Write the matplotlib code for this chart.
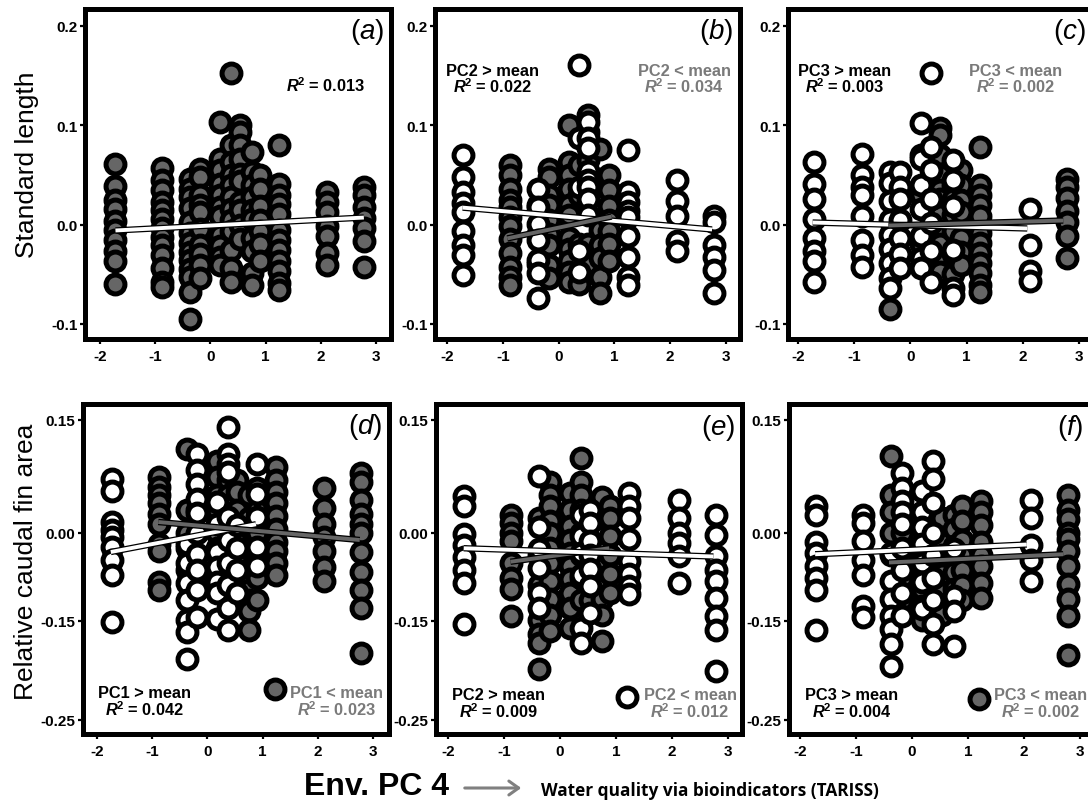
import matplotlib
matplotlib.use("Agg")
import matplotlib.pyplot as plt
from matplotlib.patches import FancyArrowPatch

W, H = 1088, 803
GREY = '#666666'
TEXT_GREY = '#7a7a7a'
MARK = dict(s=185, edgecolor='black', linewidth=3.6)

plt.rcParams['font.family'] = ['Liberation Sans', 'DejaVu Sans']
plt.rcParams['mathtext.fontset'] = 'custom'
plt.rcParams['mathtext.it'] = 'Liberation Sans:italic:bold'
plt.rcParams['mathtext.rm'] = 'Liberation Sans:bold'
plt.rcParams['mathtext.sf'] = 'Liberation Sans:italic'

# sampling sites on Env. PC 4
sites = [-1.72, -0.87, -0.37, -0.18, 0.18, 0.37, 0.53, 0.75, 0.9, 1.24, 2.12, 2.78]

# one list of y values per site
a_grey = [
    [.061, .039, .025, .016, .004, -.006, -.016, -.027, -.037, -.06],
    [.057, .045, .035, .023, .015, .006, -.004, -.013, -.021, -.031, -.044, -.058, -.063],
    [.046, .036, .028, .017, .003, -.009, -.019, -.028, -.036, -.045, -.053, -.068, -.095],
    [.056, .048, .03, .02, .013, -.005, -.021, -.03, -.041, -.054],
    [.103, .066, .055, .041, .03, .018, .009, -.011, -.022, -.033, -.041],
    [.08, .063, .05, .04, .028, .016, .005, -.007, -.026, -.044, -.058, .152],
    [.1, .093, .08, .066, .051, .044, .023, .015, -.001, -.015],
    [.073, .053, .04, .028, .015, .006, -.014, -.027, -.049, -.061],
    [.05, .036, .019, .005, -.007, -.02, -.037],
    [.08, .041, .03, .021, .011, -.006, -.016, -.026, -.037, -.047, -.059, -.066],
    [.033, .023, .013, -.002, -.012, -.029, -.041],
    [.038, .03, .018, .007, -.004, -.017, -.043],
]
b_white = [
    [.07, .048, .033, .022, .013, -.007, -.021, -.031, -.051],
    [],
    [.036, .018, .001, -.016, -.036, -.049, -.074],
    [],
    [],
    [.16, .087, .038, -.027, -.048],
    [.103, .087, .077, .054, .045, .038, .026, .01],
    [],
    [],
    [.075, .033, .023, .014, .008, -.012, -.033, -.053, -.061],
    [.045, .024, .009, -.017, -.027],
    [.009, .003, -.021, -.033, -.046, -.069],
]
b_grey = [
    [],
    [.06, .05, .036, .025, .018, .008, -.002, -.015, -.029, -.043, -.053, -.061],
    [.02, -.01, -.04],
    [.056, .048, .03, .02, .005, -.01, -.021, -.041, -.054],
    [.1, .063, .05, .036, .02, .01, -.014, -.025, -.037, -.048, -.058],
    [.06, .03, -.02, -.06],
    [.11, .093, .08, .065, .015, -.02, -.04],
    [.076, .046, .03, .012, -.006, -.021, -.034, -.053, -.069],
    [.05, .035, .019, .005, -.007, -.02, -.037],
    [],
    [],
    [],
]
c_white = [
    [.063, .041, .026, .006, -.014, -.027, -.037, -.058],
    [.071, .05, .038, .03, .009, -.016, -.031, -.043],
    [.053, .042, .024, .005, -.011, -.025, -.039, -.054, -.064],
    [.053, .038, .026, .005, -.014, -.03, -.044],
    [.102, .066, .04, .016, -.012, -.034, -.044],
    [.152, .078, .055, .026, .002, -.027, -.058],
    [],
    [.065, .045, .019, -.026, -.064, -.071],
    [],
    [],
    [.016, -.021, -.047, -.057],
    [],
]
c_grey = [
    [],
    [],
    [-.085],
    [],
    [.07, .03, -.02],
    [.03, -.01, -.04],
    [.097, .09, .07, .05, .035, .026, .01, -.007, -.02, -.035, -.048],
    [.04, .026, .01, -.007, -.03, -.05],
    [.055, .04, .025, .013, -.014, -.028, -.041],
    [.078, .04, .03, .02, .009, -.009, -.019, -.029, -.039, -.049, -.061, -.068],
    [],
    [.046, .038, .027, .014, .003, -.012, -.034],
]
d_white = [
    [.072, .056, .014, .004, -.006, -.019, -.037, -.057, -.119],
    [],
    [-.015, -.041, -.067, -.09, -.117, -.132, -.169],
    [.105, .083, .065, .045, .026, .0, -.028, -.05, -.077, -.112],
    [.041, .012, -.026, -.046, -.066, -.081, -.115],
    [.141, .105, .092, .081, .021, -.01, -.04, -.07, -.101, -.13],
    [.01, -.02, -.05, -.08],
    [],
    [.092, .052, .021, -.019, -.044],
    [],
    [],
    [],
]
d_grey = [
    [],
    [.074, .061, .05, .039, .025, .012, -.015, -.024, -.066, -.077],
    [.112, .03, .0, -.02, -.05],
    [.03, -.03, -.06],
    [.096, .074, .05, .03, .0, -.02, -.05],
    [.07, .05, .02, -.01, -.03],
    [.07, .054, .03, .01, -.012, -.03, -.05, -.07, -.086],
    [.05, .02, -.02, -.059, -.077, -.09, -.105, -.13],
    [.06, .03, .0, -.03, -.06, -.09],
    [.088, .07, .054, .04, .022, .005, -.012, -.025, -.041, -.057],
    [.06, .033, .012, -.006, -.024, -.046, -.064],
    [.079, .068, .043, .025, .012, -.001, -.026, -.052, -.077, -.101, -.16],
]
e_white = [
    [.049, .036, -.002, -.016, -.033, -.05, -.067, -.122],
    [],
    [.076, .007, -.022, -.047, -.08, -.1],
    [],
    [],
    [.024, -.004, -.027, -.056, -.127, -.147],
    [.03, .013, -.011, -.03, -.049, -.071, -.107],
    [],
    [],
    [.053, .035, .02, -.009, -.038, -.055, -.071, -.082],
    [.043, .019, .0, -.014, -.031, -.067],
    [.024, -.003, -.031, -.05, -.064, -.087, -.111, -.13, -.184],
]
e_grey = [
    [],
    [.024, .013, .0, -.011, -.04, -.06, -.075, -.111],
    [.02, -.03, -.07, -.116, -.135, -.147, -.182],
    [.067, .05, .036, .015, 0.0, -.02, -.04, -.065, -.089, -.11, -.131],
    [.053, .03, .009, -.01, -.027, -.045, -.062, -.08, -.1, -.127],
    [.1, .067, .05, .03, .0, -.03, -.06, -.09],
    [.02, -.01, -.04, -.065, -.09],
    [.047, .02, -.018, -.045, -.071, -.089, -.11, -.144],
    [.035, .02, -.005, -.03, -.055, -.08],
    [],
    [],
    [],
]
f_white = [
    [.036, .024, -.013, -.027, -.044, -.06, -.076, -.13],
    [.024, .013, -.011, -.036, -.056, -.098, -.113],
    [-.027, -.064, -.089, -.111, -.129, -.148, -.178],
    [.08, .06, .042, .027, .011, -.02, -.05, -.08, -.111],
    [.056, .027, .008, -.015, -.04, -.066, -.102],
    [.096, .071, .04, 0.0, -.03, -.06, -.09, -.122, -.149],
    [],
    [-.022, -.084, -.104, -.151],
    [],
    [],
    [.044, .02, -.016, -.036, -.064],
    [],
]
f_grey = [
    [],
    [],
    [.102, .05, .027, 0.0, -.03],
    [.0, -.03, -.06, -.09],
    [-.02, -.05, -.075, -.098, -.116],
    [.03, .0, -.03, -.06],
    [.02, -.01, -.03, -.055, -.08, -.11],
    [.024, .005, -.018, -.035, -.053, -.075, -.093],
    [.035, .015, -.01, -.03, -.05, -.07, -.09],
    [.042, .027, .01, -.013, -.03, -.044, -.067, -.087],
    [],
    [.05, .03, .018, .0, -.009, -.025, -.044, -.069, -.089, -.111, -.163],
]

# legend markers that sit inside the bottom panels
d_key = (1.22, -.209)
e_key = (1.19, -.219)
f_key = (1.2, -.222)

# fitted lines, (x0, y0, x1, y1)
a_fit = (-1.72, -.006, 2.78, .007)
b_fit_white = (-1.72, .017, 2.75, -.005)
b_fit_grey = (-.92, -.014, .95, .008)
c_fit_white = (-1.74, .002, 2.08, -.004)
c_fit_grey = (-.39, -.001, 2.72, .004)
d_fit_white = (-1.75, -.026, .88, .011)
d_fit_grey = (-.89, .014, 2.76, -.01)
e_fit_white = (-1.72, -.021, 2.74, -.032)
e_fit_grey = (-.885, -.039, .88, -.021)
f_fit_white = (-1.73, -.029, 2.05, -.016)
f_fit_grey = (-.41, -.04, 2.7, -.029)

xticks = [-2, -1, 0, 1, 2, 3]
top_yticks = [0.2, 0.1, 0.0, -0.1]
top_ylabels = ['0.2', '0.1', '0.0', '-0.1']
# the printed -0.15 tick is not where a linear axis would put it
bottom_yticks = [0.15, 0.0, -0.118, -0.25]
bottom_ylabels = ['0.15', '0.00', '-0.15', '-0.25']


def make_axes(fig, box, xpx):
    # box is left, right, top, bottom in pixels, xpx the pixels of x=-2 and x=3
    l, r, t, b = box
    ax = fig.add_axes([l / W, 1 - b / H, (r - l) / W, (b - t) / H])
    ppu = (xpx[1] - xpx[0]) / 5.0
    ax.set_xlim(-2 + (l - xpx[0]) / ppu, -2 + (r - xpx[0]) / ppu)
    for s in ax.spines.values():
        s.set_linewidth(3.6)
    ax.set_xticks(xticks)
    ax.set_xticklabels([str(v) for v in xticks], fontweight='bold')
    ax.tick_params(length=3.5, width=1.6, labelsize=11)
    ax.tick_params(axis='x', pad=4)
    ax.tick_params(axis='y', pad=2)
    return ax


def column_points(values):
    xs, ys = [], []
    for x, col in zip(sites, values):
        for y in col:
            xs.append(x)
            ys.append(y)
    return xs, ys


def draw_points(ax, values, face, z):
    xs, ys = column_points(values)
    ax.scatter(xs, ys, facecolor=face, zorder=z, **MARK)


def draw_fit(ax, fit, color, z=6):
    ax.plot([fit[0], fit[2]], [fit[1], fit[3]], color='black', lw=4.6, zorder=z, solid_capstyle='butt')
    ax.plot([fit[0], fit[2]], [fit[1], fit[3]], color=color, lw=2.8, zorder=z + 1, solid_capstyle='butt')


def put_text(fig, x, y, s, **kw):
    kw.setdefault('ha', 'center')
    kw.setdefault('va', 'center')
    fig.text(x / W, 1 - y / H, s, **kw)


def r2_label(value):
    return '$\\mathit{R}^{\\!2}$ = ' + value


fig = plt.figure(figsize=(W / 100, H / 100), dpi=100)

# top row
ax_a = make_axes(fig, (85, 391, 10, 340), (100, 376))
ax_b = make_axes(fig, (435, 740, 10, 340), (447, 726))
ax_c = make_axes(fig, (788, 1095, 10, 340), (798, 1079))
# bottom row
ax_d = make_axes(fig, (83, 389, 405, 735), (97, 373))
ax_e = make_axes(fig, (436, 742, 405, 735), (448, 728))
ax_f = make_axes(fig, (789, 1095, 405, 735), (800, 1080))

for ax in [ax_a, ax_b, ax_c]:
    ppu = 99.4 / 0.1
    ax.set_ylim(0.2 - (340 - 26.7) / ppu, 0.2 + (26.7 - 10) / ppu)
    ax.set_yticks(top_yticks)
    ax.set_yticklabels(top_ylabels, fontweight='bold')
for ax in [ax_d, ax_e, ax_f]:
    ppu = 300 / 0.4
    ax.set_ylim(0.15 - (735 - 421) / ppu, 0.15 + (421 - 405) / ppu)
    ax.set_yticks(bottom_yticks)
    ax.set_yticklabels(bottom_ylabels, fontweight='bold')

draw_points(ax_a, a_grey, GREY, 3)
draw_fit(ax_a, a_fit, 'white')

draw_points(ax_b, b_grey, GREY, 2)
draw_points(ax_b, b_white, 'white', 3)
draw_fit(ax_b, b_fit_white, 'white')
draw_fit(ax_b, b_fit_grey, GREY, 8)

draw_points(ax_c, c_grey, GREY, 2)
draw_points(ax_c, c_white, 'white', 3)
draw_fit(ax_c, c_fit_white, 'white')
draw_fit(ax_c, c_fit_grey, GREY, 8)

draw_points(ax_d, d_grey, GREY, 2)
draw_points(ax_d, d_white, 'white', 3)
draw_fit(ax_d, d_fit_white, 'white')
draw_fit(ax_d, d_fit_grey, GREY, 8)
ax_d.scatter([d_key[0]], [d_key[1]], facecolor=GREY, zorder=3, **MARK)

draw_points(ax_e, e_grey, GREY, 2)
draw_points(ax_e, e_white, 'white', 3)
draw_fit(ax_e, e_fit_grey, GREY)
draw_fit(ax_e, e_fit_white, 'white', 8)
ax_e.scatter([e_key[0]], [e_key[1]], facecolor='white', zorder=3, **MARK)

draw_points(ax_f, f_grey, GREY, 2)
draw_points(ax_f, f_white, 'white', 3)
draw_fit(ax_f, f_fit_white, 'white')
draw_fit(ax_f, f_fit_grey, GREY, 8)
ax_f.scatter([f_key[0]], [f_key[1]], facecolor=GREY, zorder=3, **MARK)

# panel letters
for x, y, s in [(367, 32, 'a'), (716, 32, 'b'), (1069, 32, 'c'),
                (365, 427, 'd'), (718, 428, 'e'), (1070, 428, 'f')]:
    put_text(fig, x, y, '($\\mathsf{%s}$)' % s, fontsize=20)

# fit annotations
bold = dict(fontsize=11.8, fontweight='bold')
put_text(fig, 326, 86, r2_label('0.013'), **bold)
for x, y, s, val, col in [
    (493, 71, 'PC2 > mean', '0.022', 'black'), (684, 71, 'PC2 < mean', '0.034', TEXT_GREY),
    (845, 71, 'PC3 > mean', '0.003', 'black'), (1016, 71, 'PC3 < mean', '0.002', TEXT_GREY),
    (145, 694, 'PC1 > mean', '0.042', 'black'), (337, 694, 'PC1 < mean', '0.023', TEXT_GREY),
    (499, 696, 'PC2 > mean', '0.009', 'black'), (690, 696, 'PC2 < mean', '0.012', TEXT_GREY),
    (852, 696, 'PC3 > mean', '0.004', 'black'), (1041, 696, 'PC3 < mean', '0.002', TEXT_GREY),
]:
    put_text(fig, x, y, s, color=col, **bold)
    put_text(fig, x, y + 16, r2_label(val), color=col, **bold)

# axis titles
put_text(fig, 27, 165, 'Standard length', fontsize=19, rotation=90)
put_text(fig, 26, 562, 'Relative caudal fin area', fontsize=19, rotation=90)
put_text(fig, 376, 787, 'Env. PC 4', fontsize=23, fontweight='bold')
put_text(fig, 710, 791, 'Water quality via bioindicators (TARISS)', fontsize=12.4, fontweight='bold',
         family=['Open Sans', 'DejaVu Sans'])
fig.add_artist(FancyArrowPatch((462 / W, 1 - 789 / H), (524 / W, 1 - 789 / H), transform=fig.transFigure,
                               arrowstyle='->,head_length=7,head_width=5', color='#808080', lw=2.2))

plt.savefig('out.png', dpi=100)
